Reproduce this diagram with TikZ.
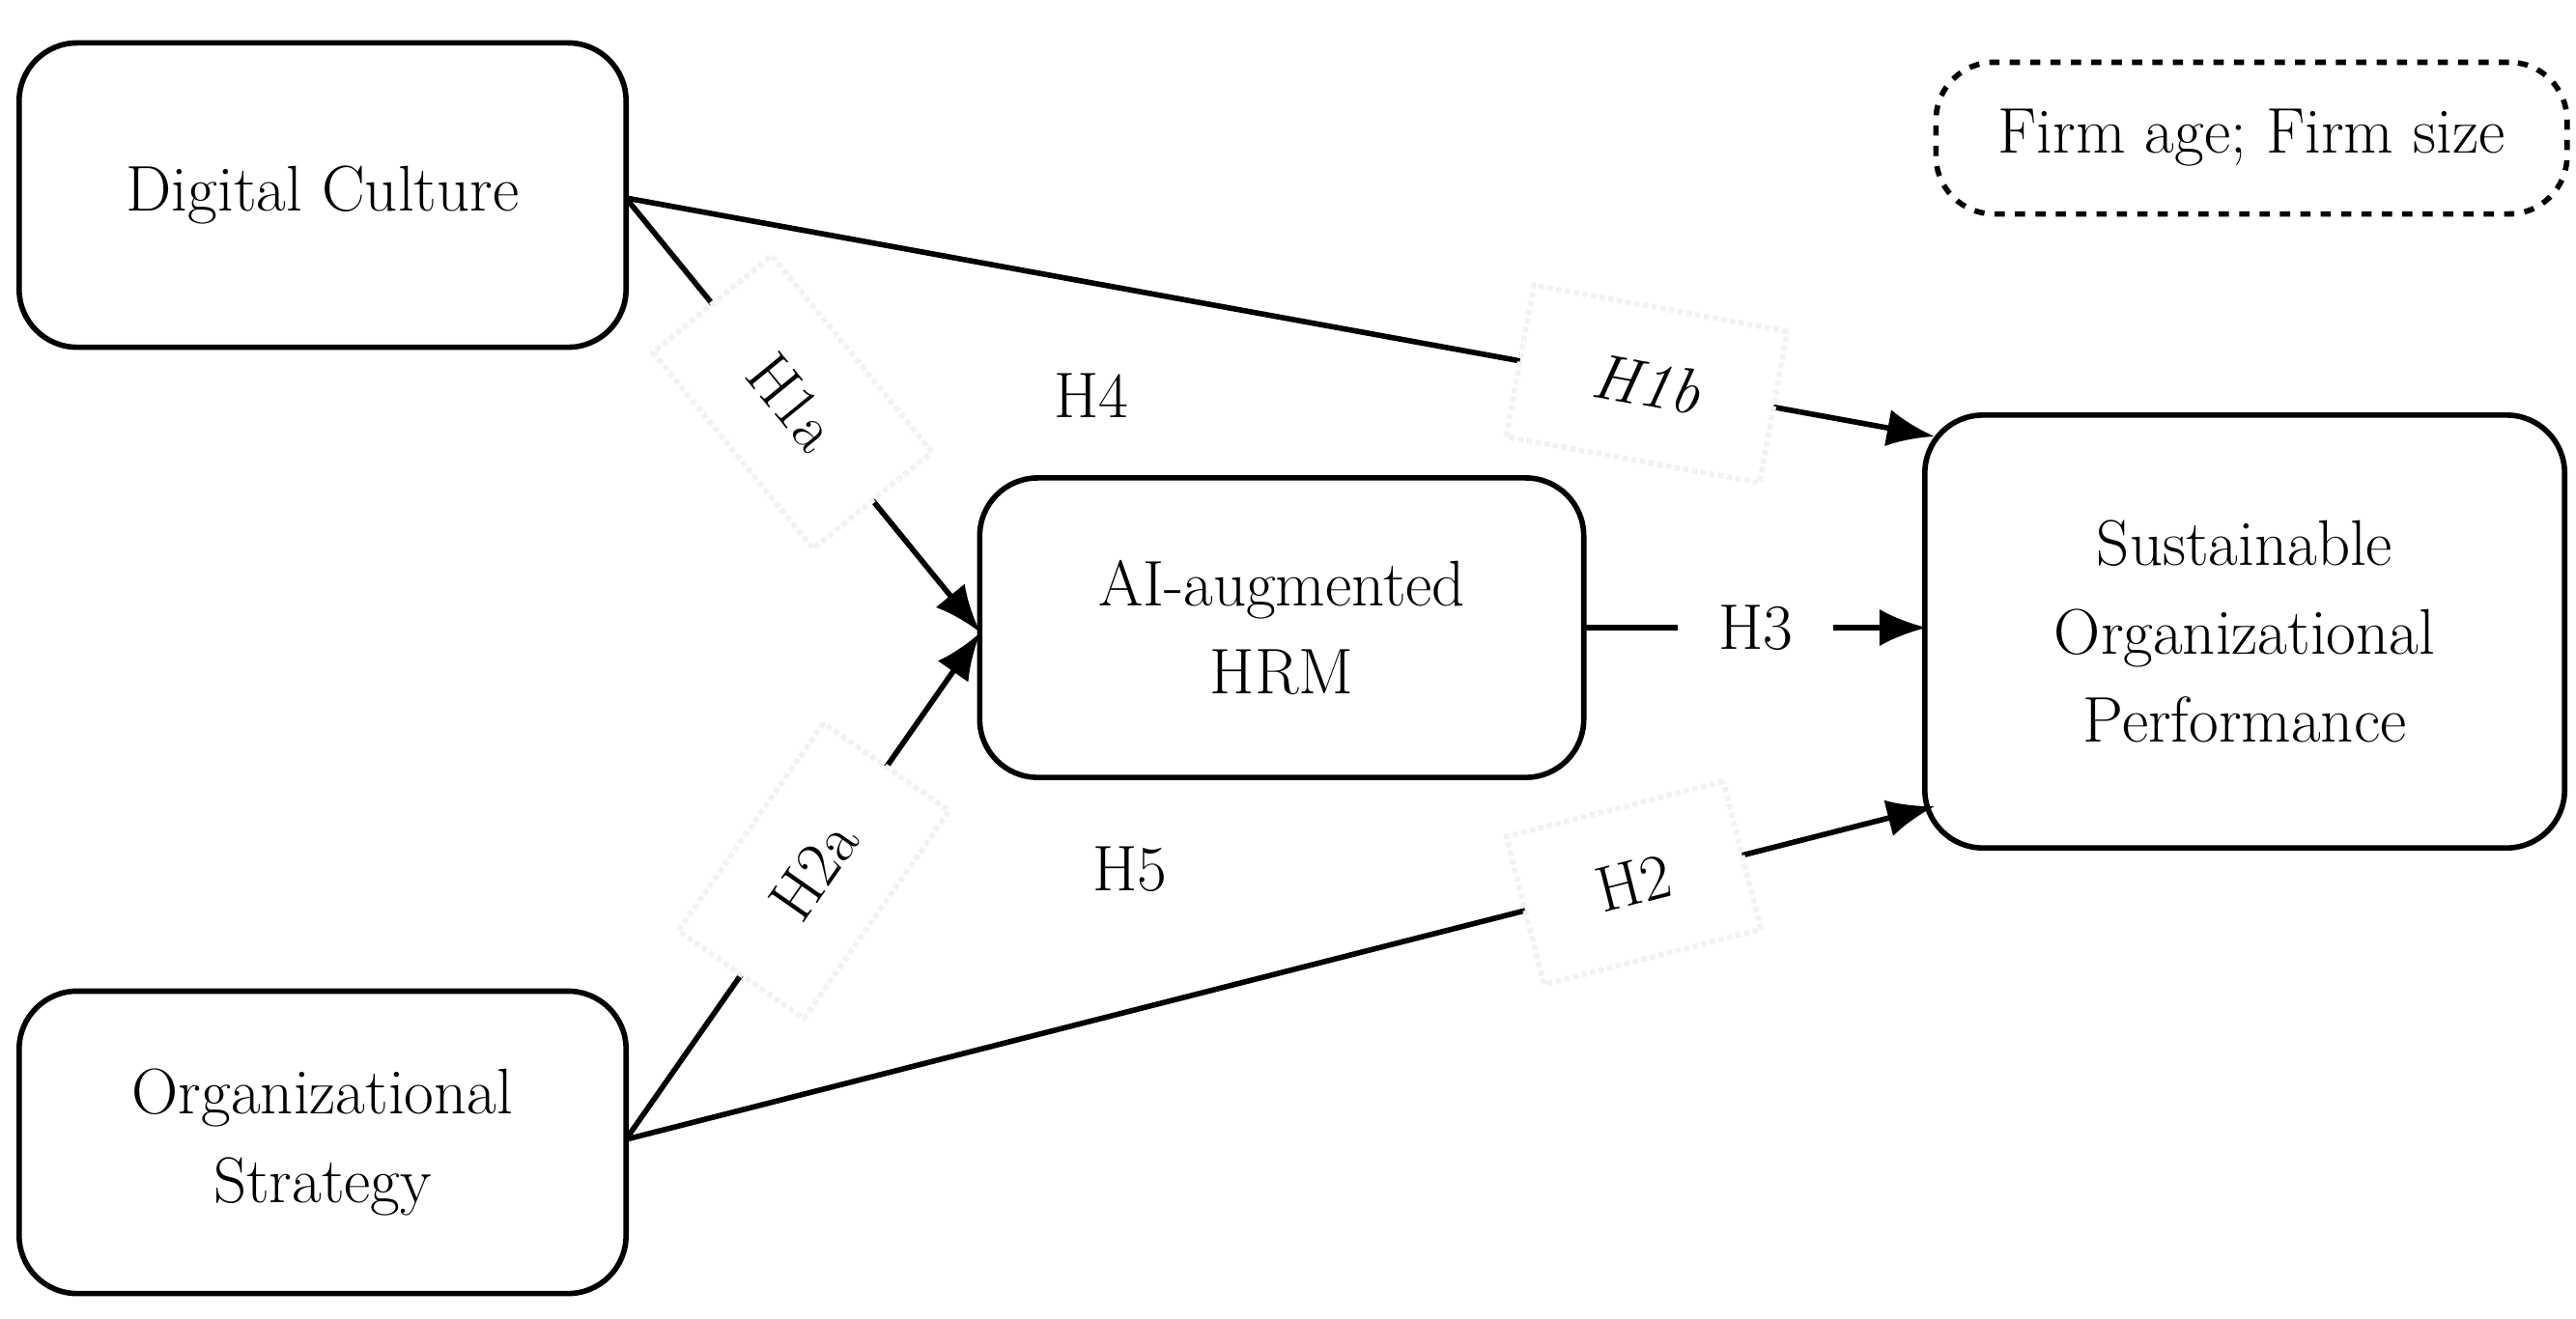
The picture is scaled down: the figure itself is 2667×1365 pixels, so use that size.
\documentclass[tikz,border=0pt]{standalone}
\usetikzlibrary{arrows.meta}
\begin{document}
\begin{tikzpicture}[x=0.01cm,y=-0.01cm,
  box/.style={draw,line width=1.6pt,rounded corners=0.6cm,align=center,font=\fontsize{19}{26}\selectfont,inner sep=0pt},
  lab/.style={fill=white,draw=gray!10,densely dotted,font=\fontsize{19}{24}\selectfont,inner xsep=22pt,inner ysep=16pt,sloped},
  txt/.style={fill=white,font=\fontsize{19}{24}\selectfont,inner sep=12pt},
  arr/.style={line width=1.6pt,-{Latex[length=14pt,width=11pt]}}]
\useasboundingbox (0,0) rectangle (2667,1365);
\node[box,minimum width=6.28cm,minimum height=3.15cm] (dc) at (334,202) {Digital Culture};
\node[box,minimum width=6.28cm,minimum height=3.13cm] (os) at (334,1183) {Organizational\\Strategy};
\node[box,minimum width=6.25cm,minimum height=3.1cm] (hrm) at (1327,650) {AI-augmented\\HRM};
\node[box,minimum width=6.62cm,minimum height=4.48cm] (sop) at (2324,654) {Sustainable\\Organizational\\Performance};
\node[box,dashed,minimum width=6.53cm,minimum height=1.57cm] (ctl) at (2331,143) {Firm age; Firm size};
\coordinate (dco) at (648,205);
\coordinate (oso) at (648,1180);
\coordinate (hin) at (1015,655);
\draw[arr] (dco) -- node[lab,pos=0.78]{\itshape H1b} (2003,452);
\draw[arr] (dco) -- node[lab,pos=0.47]{H1a} (hin);
\draw[arr] (oso) -- node[lab,pos=0.53]{H2a} (hin);
\draw[arr] (oso) -- node[lab,pos=0.77]{H2} (2003,835);
\draw[arr] (1640,650) -- node[txt,pos=0.5]{H3} (1995,650);
\node[txt] (h4) at (1130,410) {H4};
\node[txt] (h5) at (1170,900) {H5};
\end{tikzpicture}
\end{document}
